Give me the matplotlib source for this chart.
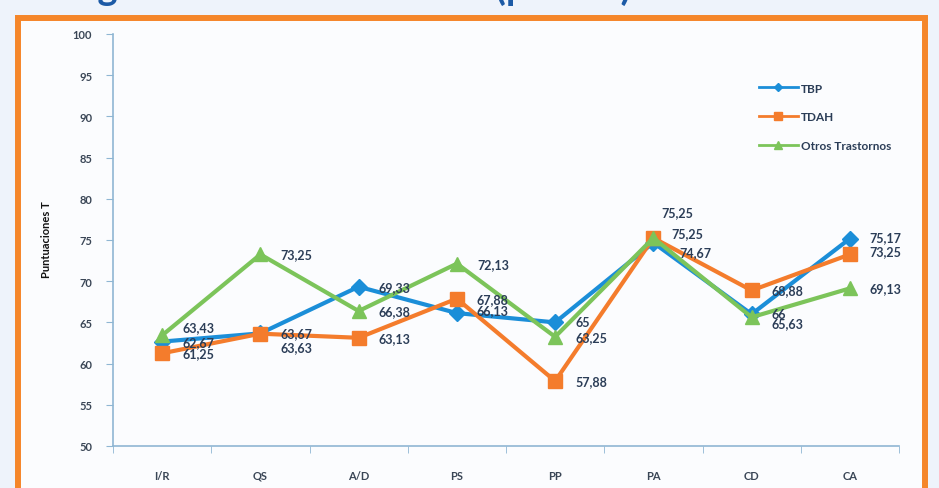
import matplotlib
matplotlib.use("Agg")
import matplotlib.pyplot as plt
from matplotlib.patches import Rectangle

plt.rcParams['font.family'] = ['Lato', 'DejaVu Sans']

categories = ["I/R", "QS", "A/D", "PS", "PP", "PA", "CD", "CA"]
tbp = [62.67, 63.67, 69.33, 66.13, 65, 74.67, 66, 75.17]
tdah = [61.25, 63.63, 63.13, 67.88, 57.88, 75.25, 68.88, 73.25]
otros = [63.43, 73.25, 66.38, 72.13, 63.25, 75.25, 65.63, 69.13]
series_names = ["TBP", "TDAH", "Otros Trastornos"]
yticks = [50, 55, 60, 65, 70, 75, 80, 85, 90, 95, 100]

# label nudges in pixels (dx, dy), default (20, 0)
nudges = {
    ("TBP", 5): (26, -9), ("TBP", 3): (20, 3), ("TBP", 7): (20, 2),
    ("TDAH", 1): (20, -13), ("TDAH", 5): (8, 26), ("TDAH", 7): (20, 3),
    ("Otros Trastornos", 0): (20, 8), ("Otros Trastornos", 5): (18, 5),
    ("Otros Trastornos", 6): (20, -6),
}

W, H = 939, 489
fig = plt.figure(figsize=(W / 100, H / 100), dpi=100)
fig.patch.set_facecolor("#eef3fb")

# background panel with orange frame
bg = fig.add_axes([0, 0, 1, 1], zorder=-10)
bg.set_xlim(0, W)
bg.set_ylim(H, 0)
bg.axis("off")
bg.add_patch(Rectangle((18, 19), 907, 500, facecolor="#fbfcfe",
                       edgecolor="#f5862a", linewidth=4.3))
fig.text(66 / W, 1.0, "Figura 2. Puntuaciones T (padres)",
         fontsize=27.5, fontweight="bold", color="#1c5aa6", va="baseline")

ax = fig.add_axes([113 / W, 1 - 447 / H, 786 / W, 412 / H])
ax.set_facecolor("none")

x = list(range(len(categories)))
styles = [
    (tbp, "#1b8ed8", "D", 8),
    (tdah, "#f47c2c", "s", 10),
    (otros, "#7cc45a", "^", 10),
]
for (vals, color, mk, ms), name in zip(styles, series_names):
    ax.plot(x, vals, color=color, lw=3, marker=mk, markersize=ms,
            markeredgecolor=color, label=name)

for (vals, color, mk, ms), name in zip(styles, series_names):
    for i, v in enumerate(vals):
        dx, dy = nudges.get((name, i), (20, 0))
        txt = f"{v:g}".replace(".", ",")
        ax.annotate(txt, (i, v), xytext=(dx * 0.72, dy * 0.72),
                    textcoords="offset points", fontsize=9, fontweight="bold",
                    color="#2b3d57", va="center", ha="left")

ax.set_xlim(-0.5, len(categories) - 0.5)
ax.set_ylim(50, 100)
ax.set_yticks(yticks)
ax.set_xticks(x)
ax.set_xticklabels(categories)
ax.set_xticks([i - 0.5 for i in range(len(categories) + 1)], minor=True)
ax.tick_params(axis="x", which="major", length=0, pad=17)
ax.tick_params(axis="x", which="minor", length=5, color="#8fb6d3", direction="out")
ax.tick_params(axis="y", length=5, color="#8fb6d3", pad=10)
for lab in ax.get_xticklabels() + ax.get_yticklabels():
    lab.set_fontsize(8)
    lab.set_fontweight("bold")
    lab.set_color("#3a4656")

for s in ["top", "right"]:
    ax.spines[s].set_visible(False)
for s in ["left", "bottom"]:
    ax.spines[s].set_color("#8fb6d3")
    ax.spines[s].set_linewidth(1.2)

fig.text(47 / W, 1 - 240 / H, "Puntuaciones T", rotation=90, fontsize=8,
         fontweight="bold", color="#111111", ha="center", va="center")

leg = ax.legend(loc="upper left", bbox_to_anchor=(748 / W, 1 - 73 / H),
                bbox_transform=fig.transFigure, frameon=False, fontsize=8.5,
                handlelength=3.3, markerscale=0.55, labelspacing=1.5,
                handletextpad=0.3)
for t in leg.get_texts():
    t.set_color("#2b3d57")
    t.set_fontweight("bold")
for ln in leg.get_lines():
    ln.set_linewidth(2)

fig.savefig("out.png", dpi=100, facecolor=fig.get_facecolor())
